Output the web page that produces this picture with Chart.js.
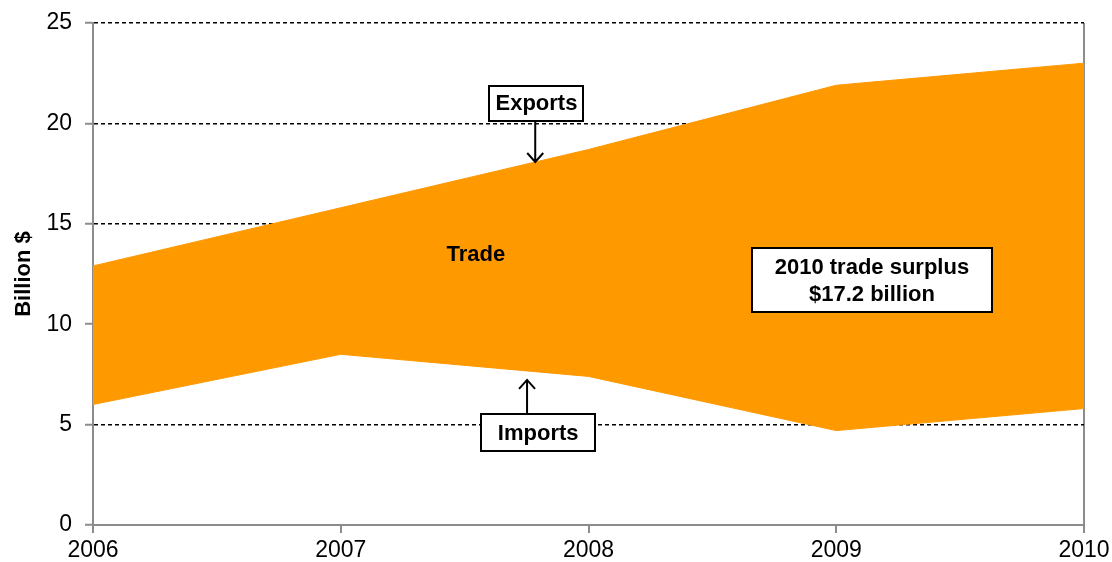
<!DOCTYPE html>
<html>
<head>
<meta charset="utf-8">
<script src="https://cdn.jsdelivr.net/npm/chart.js@4/dist/chart.umd.min.js"></script>
<style>
html,body{margin:0;padding:0;background:#fff;}
#wrap{width:1112px;height:562px;position:relative;}
</style>
</head>
<body>
<div id="wrap"><canvas id="c" width="1112" height="562"></canvas></div>
<script>
const years = ['2006', '2007', '2008', '2009', '2010'];
const exportsVals = [12.9, 15.8, 18.7, 21.9, 23.0];
const importsVals = [6.0, 8.5, 7.4, 4.7, 5.8];
const yTicks = [0, 5, 10, 15, 20, 25];

const FONT = "'Liberation Sans', Arial, sans-serif";
const ORANGE = '#ff9900';

function interp(arr, idx) {
  const i = Math.floor(idx), f = idx - i;
  if (i >= arr.length - 1) return arr[arr.length - 1];
  return arr[i] + f * (arr[i + 1] - arr[i]);
}

const annot = {
  id: 'annot',
  afterDatasetsDraw(chart) {
    const ctx = chart.ctx;
    const xs = chart.scales.x, ys = chart.scales.y;
    const X = v => xs.getPixelForValue(v);
    const Y = v => ys.getPixelForValue(v);
    ctx.save();
    ctx.font = "bold 22px " + FONT;
    ctx.textAlign = 'center';
    ctx.textBaseline = 'middle';

    function box(cx, cy, w, h, lines) {
      const x0 = Math.round(cx - w / 2), y0 = Math.round(cy - h / 2);
      ctx.fillStyle = '#fff';
      ctx.fillRect(x0, y0, w, h);
      ctx.lineWidth = 2;
      ctx.strokeStyle = '#000';
      ctx.strokeRect(x0, y0, w, h);
      ctx.fillStyle = '#000';
      const lh = 27;
      const start = cy - (lines.length - 1) * lh / 2;
      lines.forEach((t, i) => ctx.fillText(t, cx, start + i * lh + 1));
      return {top: y0, bottom: y0 + h};
    }
    function arrow(x, y1, y2) {
      ctx.strokeStyle = '#000';
      ctx.lineWidth = 2;
      ctx.beginPath();
      ctx.moveTo(x, y1); ctx.lineTo(x, y2);
      const d = y2 > y1 ? -1 : 1;
      ctx.moveTo(x - 8, y2 + d * 9); ctx.lineTo(x, y2); ctx.lineTo(x + 8, y2 + d * 9);
      ctx.stroke();
    }

    // Exports label + arrow
    const eb = box(X(1.79), Y(21.0), 94, 35, ['Exports']);
    const ax = 1.785;
    arrow(X(ax), eb.bottom, Y(interp(exportsVals, ax)));

    // Imports label + arrow
    const ib = box(X(1.797), Y(4.6), 114, 37, ['Imports']);
    const bx = 1.752;
    arrow(X(bx), ib.top, Y(interp(importsVals, bx)) + 9);

    // Trade text
    ctx.fillStyle = '#000';
    ctx.fillText('Trade', X(1.545), Y(13.45));

    // Surplus box
    box(X(3.144), Y(12.2), 240, 64, ['2010 trade surplus', '$17.2 billion']);
    ctx.restore();
  }
};

new Chart(document.getElementById('c'), {
  type: 'line',
  data: {
    labels: years,
    datasets: [
      {label: 'Imports', data: importsVals, borderColor: ORANGE, borderWidth: 1, pointRadius: 0, fill: false, tension: 0},
      {label: 'Exports', data: exportsVals, borderColor: ORANGE, borderWidth: 1, pointRadius: 0, backgroundColor: ORANGE, fill: '-1', tension: 0}
    ]
  },
  options: {
    responsive: false,
    animation: false,
    events: [],
    layout: {padding: {top: 23, right: 28, left: 0, bottom: 0}},
    plugins: {legend: {display: false}, tooltip: {enabled: false}},
    scales: {
      x: {
        type: 'category',
        offset: false,
        grid: {
          display: true,
          color: c => c.index === years.length - 1 ? '#8c8c8c' : 'rgba(0,0,0,0)',
          lineWidth: 2,
          tickColor: '#8c8c8c',
          tickLength: 8,
          tickWidth: 2
        },
        border: {display: true, color: '#8c8c8c', width: 2},
        ticks: {color: '#000', font: {family: FONT, size: 23}, padding: 4, maxRotation: 0, autoSkip: false},
        afterFit: s => { s.height = 37; s.paddingRight = 0; s.paddingLeft = 0; }
      },
      y: {
        min: 0, max: 25,
        afterBuildTicks: s => { s.ticks = yTicks.map(v => ({value: v})); },
        grid: {
          color: c => c.tick && c.tick.value === 0 ? 'rgba(0,0,0,0)' : '#000',
          lineWidth: 1.5,
          tickColor: '#8c8c8c',
          tickLength: 8,
          tickWidth: 2
        },
        border: {display: true, color: '#8c8c8c', width: 2, dash: [4, 3]},
        ticks: {color: '#000', font: {family: FONT, size: 23}, padding: 13},
        title: {display: true, text: 'Billion $', color: '#000', font: {family: FONT, size: 22, weight: 'bold'}, padding: {top: 11, bottom: 0}},
        afterFit: s => { s.width = 93; s.paddingTop = 0; s.paddingBottom = 0; }
      }
    }
  },
  plugins: [annot]
});
</script>
</body>
</html>
